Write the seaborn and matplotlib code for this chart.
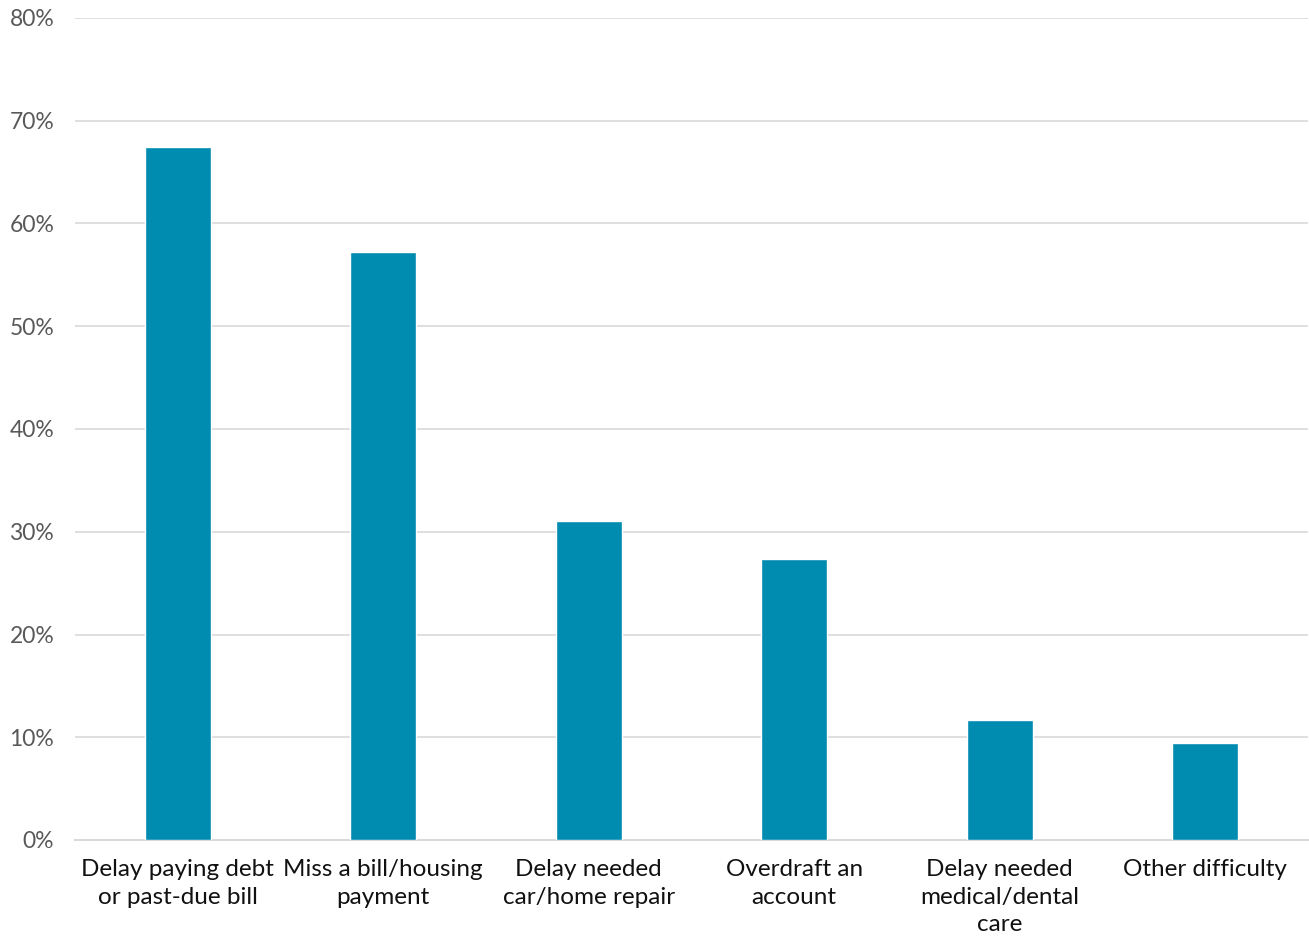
import matplotlib
matplotlib.use("Agg")
import matplotlib.pyplot as plt
import seaborn as sns
import pandas as pd
from matplotlib.ticker import FuncFormatter, MultipleLocator

categories = [
    "Delay paying debt\nor past-due bill",
    "Miss a bill/housing\npayment",
    "Delay needed\ncar/home repair",
    "Overdraft an\naccount",
    "Delay needed\nmedical/dental\ncare",
    "Other difficulty",
]
values = [67.4, 57.2, 31.0, 27.3, 11.7, 9.4]

df = pd.DataFrame({"category": categories, "value": values})

sns.set_theme(style="white")
plt.rcParams["font.family"] = ["Lato", "DejaVu Sans"]

fig = plt.figure(figsize=(13.09, 9.39), dpi=100)
ax = fig.add_axes([75 / 1309, 1 - 840 / 939, 1233 / 1309, (840 - 18) / 939])

sns.barplot(data=df, x="category", y="value", color="#008BB0", width=0.32,
            saturation=1, ax=ax, zorder=3)

ax.set_ylim(0, 80)
ax.set_xlim(-0.5, len(categories) - 0.5)
ax.yaxis.set_major_locator(MultipleLocator(10))
ax.yaxis.set_major_formatter(FuncFormatter(lambda v, p: f"{v:.0f}%"))
ax.grid(axis="y", color="#D9D9D9", linewidth=1.2, zorder=0)
ax.set_axisbelow(True)
for s in ["top", "right", "left"]:
    ax.spines[s].set_visible(False)
ax.spines["bottom"].set_color("#D9D9D9")
ax.spines["bottom"].set_linewidth(1.5)
ax.set_xlabel("")
ax.set_ylabel("")
ax.tick_params(axis="y", labelsize=16.5, labelcolor="#595959", length=0, pad=15)
ax.tick_params(axis="x", labelsize=17.5, labelcolor="#111111", length=0, pad=14)
for lbl in ax.get_xticklabels():
    lbl.set_linespacing(1.38)

fig.savefig("out.png", dpi=100)
